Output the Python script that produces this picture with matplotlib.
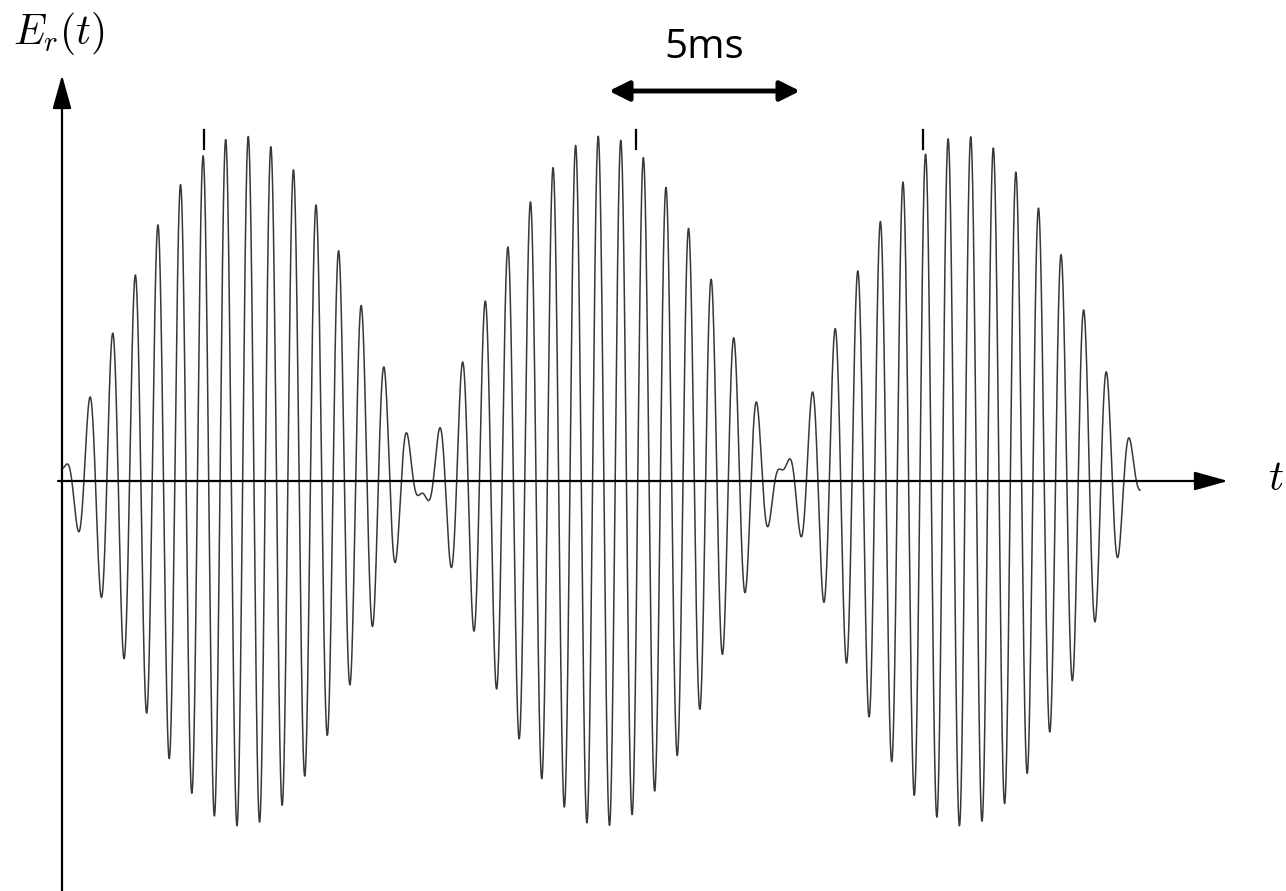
import numpy as np
import matplotlib
matplotlib.use("Agg")
import matplotlib.pyplot as plt

# Two superposed waves (frequencies in kHz, time in ms) that beat against each other
f_low_khz = 1.639
f_high_khz = 1.745
amp_low = 1.0
amp_high = 0.93
duration_ms = 28.22

# Short marks drawn above the wave crests (time in ms)
crest_marks_ms = [3.72, 15.03, 22.54]

# Scale bar
scale_bar_ms = 5.0
scale_bar_start_ms = 14.32
scale_bar_label = "5ms"

# Layout in pixels
W, H, DPI = 1286, 891, 100
ORIGIN_X, ORIGIN_Y = 62, 481
PX_PER_MS = 38.2
PX_PER_UNIT = 345.0 / (amp_low + amp_high)


def px_to_x(px):
    return (px - ORIGIN_X) / PX_PER_MS


def px_to_y(py):
    return (ORIGIN_Y - py) / PX_PER_UNIT


plt.rcParams["mathtext.fontset"] = "cm"

fig = plt.figure(figsize=(W / DPI, H / DPI), dpi=DPI)
ax = fig.add_axes([0, 0, 1, 1])
ax.set_xlim(px_to_x(0), px_to_x(W))
ax.set_ylim(px_to_y(H), px_to_y(0))
ax.axis("off")

# Received field: sum of the two waves
t = np.linspace(0, duration_ms, 30000)
e_r = amp_low * np.cos(2 * np.pi * f_low_khz * t) - amp_high * np.cos(2 * np.pi * f_high_khz * t)
ax.plot(t, e_r, color="#383838", lw=1.1, zorder=3)

# Axes with arrow heads
axis_style = "-|>,head_length=1.04,head_width=0.29"
ax.annotate("", xy=(px_to_x(1228), 0), xytext=(px_to_x(58), 0),
            arrowprops=dict(arrowstyle=axis_style, mutation_scale=20, lw=1.6,
                            color="black", shrinkA=0, shrinkB=0), zorder=4)
ax.annotate("", xy=(0, px_to_y(75)), xytext=(0, px_to_y(H + 5)),
            arrowprops=dict(arrowstyle=axis_style, mutation_scale=20, lw=1.6,
                            color="black", shrinkA=0, shrinkB=0), zorder=4)

# Axis labels
ax.text(px_to_x(13), px_to_y(33), r"$E_r(t)$", fontsize=30, ha="left", va="center")
ax.text(px_to_x(1284), px_to_y(478), r"$t$", fontsize=30, ha="right", va="center")

# Crest marks
for tm in crest_marks_ms:
    ax.plot([tm, tm], [px_to_y(149), px_to_y(130)], color="black", lw=1.6, zorder=4)

# Scale bar with double arrow
bar_y = px_to_y(91)
ax.annotate("", xy=(scale_bar_start_ms + scale_bar_ms, bar_y), xytext=(scale_bar_start_ms, bar_y),
            arrowprops=dict(arrowstyle="<|-|>,head_length=0.6,head_width=0.3",
                            mutation_scale=20, lw=3.5, color="black",
                            shrinkA=0, shrinkB=0), zorder=4)
ax.text(scale_bar_start_ms + scale_bar_ms / 2, px_to_y(48), scale_bar_label,
        fontsize=29, family="Open Sans", ha="center", va="center")

fig.savefig("out.png", dpi=DPI)
